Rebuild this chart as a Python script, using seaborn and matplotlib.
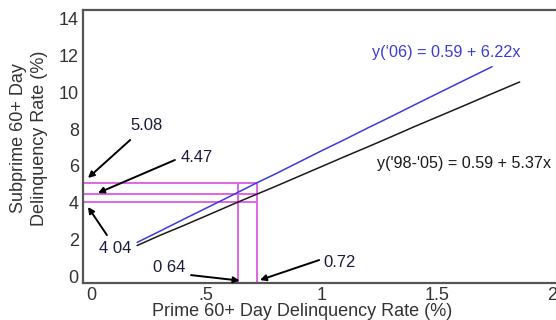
import matplotlib
matplotlib.use("Agg")
import matplotlib.pyplot as plt
import seaborn as sns
import pandas as pd

# ---- data ----
x_06 = [0.20, 0.30, 0.40, 0.50, 0.60, 0.72, 0.80, 0.90, 1.00, 1.10, 1.20, 1.30, 1.40, 1.50, 1.60, 1.74]
y_06 = [1.83, 2.45, 3.08, 3.70, 4.32, 5.08, 5.56, 6.19, 6.82, 7.43, 8.06, 8.67, 9.30, 9.92, 10.54, 11.40]
x_9805 = [0.20, 0.30, 0.40, 0.50, 0.64, 0.72, 0.80, 0.90, 1.00, 1.10, 1.20, 1.30, 1.40, 1.50, 1.60, 1.70, 1.86]
y_9805 = [1.66, 2.22, 2.74, 3.28, 4.04, 4.46, 4.88, 5.42, 5.96, 6.50, 7.03, 7.57, 8.12, 8.65, 9.18, 9.72, 10.57]
h_levels = [5.08, 4.47, 4.04]
v_levels = [0.64, 0.72]
xticks = [0, 0.5, 1, 1.5, 2]
xtick_labels = ["0", ".5", "1", "1.5", "2"]
yticks = [0, 2, 4, 6, 8, 10, 12, 14]
eq_06 = "y(\u201806) = 0.59 + 6.22x"
eq_9805 = "y('98-'05) = 0.59 + 5.37x"
xlabel = "Prime 60+ Day Delinquency Rate (%)"
ylabel = "Subprime 60+ Day\nDelinquency Rate (%)"

df = pd.concat([
    pd.DataFrame({"x": x_06, "y": y_06, "period": "2006"}),
    pd.DataFrame({"x": x_9805, "y": y_9805, "period": "1998-2005"}),
])

sns.set_style("white")
plt.rcParams["font.family"] = ["Liberation Sans", "DejaVu Sans"]

fig = plt.figure(figsize=(5.56, 3.2), dpi=100)
ax = fig.add_axes([83 / 556, 37 / 320, 477 / 556, 273 / 320])

XMIN, XMAX = -0.0347, 2.035
YMIN, YMAX = -0.38, 14.49
MAG = "#e066e6"

# magenta guide lines
ax.hlines(h_levels, XMIN, max(v_levels), colors=MAG, lw=1.4, zorder=1)
ax.vlines(v_levels, YMIN, max(h_levels), colors=MAG, lw=1.4, zorder=1)

sns.lineplot(data=df, x="x", y="y", hue="period",
             palette={"2006": "#3b3bd9", "1998-2005": "#1a1a1a"},
             lw=1.1, legend=False, ax=ax, zorder=3)

ax.set_xlim(XMIN, XMAX)
ax.set_ylim(YMIN, YMAX)
ax.set_xticks(xticks)
ax.set_xticklabels(xtick_labels)
ax.set_yticks(yticks)
ax.tick_params(direction="in", length=4, width=1, colors="#444",
               labelcolor="#333", labelsize=13, pad=3)
ax.set_xlabel(xlabel, fontsize=13, color="#333")
ax.xaxis.set_label_coords(0.459, -0.072)
ax.set_ylabel(ylabel, fontsize=13, color="#333", linespacing=1.3)
ax.yaxis.set_label_coords(-0.073, 0.53)
for s in ax.spines.values():
    s.set_color("#555")
    s.set_linewidth(1.6)
ax.spines["right"].set_visible(False)

# equations
ax.text(1.219, 12.2, eq_06, color="#3b3bd9", fontsize=11.6, va="center", ha="left")
ax.text(1.24, 6.15, eq_9805, color="#1a1a1a", fontsize=11.6, va="center", ha="left")

# annotations
arrow = dict(arrowstyle="-|>", color="black", lw=1.4, mutation_scale=9,
             shrinkA=0, shrinkB=0)
txtc = "#1a1a3a"
def ann(label, xy, start, tpos):
    ax.annotate("", xy=xy, xytext=start, arrowprops=arrow, annotation_clip=False)
    ax.text(tpos[0], tpos[1], label, fontsize=12, color=txtc,
            ha="center", va="center")

ann("5.08", (-0.013, 5.34), (0.17, 7.41), (0.243, 8.22))
ann("4.47", (0.03, 4.52), (0.364, 6.32), (0.46, 6.43))
ann("4 04", (-0.013, 3.76), (0.069, 2.23), (0.104, 1.52))
ann("0 64", (0.645, -0.25), (0.434, 0.05), (0.338, 0.44))
ann("0.72", (0.733, -0.22), (0.99, 0.87), (1.08, 0.76))

fig.savefig("out.png", dpi=100)
